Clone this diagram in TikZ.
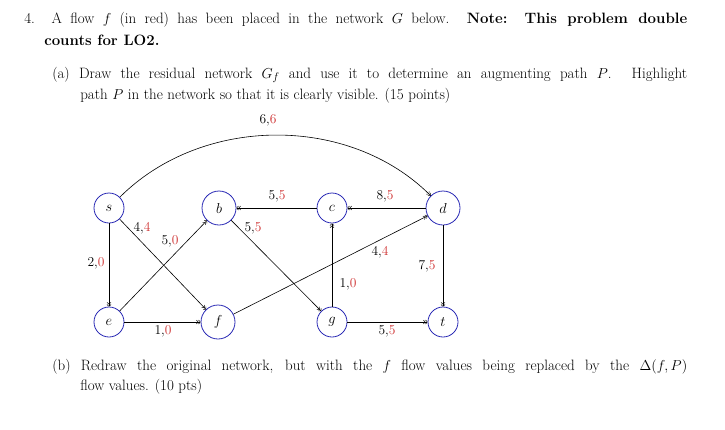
\documentclass[tikz,border=0pt]{standalone}
\usepackage{amsmath}
\usepackage{tikz}
\usetikzlibrary{positioning}
\definecolor{flowred}{RGB}{205,45,45}
\definecolor{nodeblue}{RGB}{40,40,180}
\newcommand{\fl}[2]{#1,\textcolor{flowred}{#2}}
\tikzset{
  vtx/.style={draw=nodeblue, thick, circle, minimum size=30pt, inner sep=0pt, font=\fontsize{14}{16}\selectfont},
  big/.style={minimum size=34pt},
  lbl/.style={inner sep=1pt, font=\fontsize{13.5}{15}\selectfont},
  txt/.style={anchor=west, inner sep=0pt, font=\fontsize{15}{17}\selectfont}
}
\begin{document}
\begin{tikzpicture}[x=1pt, y=-1pt, semithick]
            \useasboundingbox (0,0) rectangle (725,429);
            % Texto
            \node[txt] (l1) at (24,20) {\makebox[663pt][s]{4.\ \ A flow $f$ (in red) has been placed in the network $G$ below. \textbf{Note: This problem double}}};
            \node[txt] (l2) at (44,40) {\textbf{counts for LO2.}};
            \node[txt] (l3) at (52,75) {\makebox[635pt][s]{(a) Draw the residual network $G_f$ and use it to determine an augmenting path $P$. Highlight}};
            \node[txt] (l4) at (80,96) {path $P$ in the network so that it is clearly visible. (15 points)};
            \node[txt] (l5) at (52,367) {\makebox[635pt][s]{(b) Redraw the original network, but with the $f$ flow values being replaced by the $\Delta(f,P)$}};
            \node[txt] (l6) at (80,387) {flow values. (10 pts)};

            % Nodos
            \node[vtx] (s) at (109,208) {$s$};
            \node[vtx, big] (b) at (219,208) {$b$};
            \node[vtx] (c) at (332,208) {$c$};
            \node[vtx, big] (d) at (443,208) {$d$};
            \node[vtx] (e) at (109,322) {$e$};
            \node[vtx, big] (f) at (218,322) {$f$};
            \node[vtx] (g) at (332,322) {$g$};
            \node[vtx] (t) at (443,322) {$t$};

            % Aristas
            \draw[->>] (s) to[out=45, in=135, looseness=0.95] (d);
            \draw[->>] (s) -- (e);
            \draw[->>] (s) -- (f);
            \draw[->>] (e) -- (b);
            \draw[->>] (e) -- (f);
            \draw[->>] (c) -- (b);
            \draw[->>] (d) -- (c);
            \draw[->>] (b) -- (g);
            \draw[->>] (g) -- (c);
            \draw[->>] (f) -- (d);
            \draw[->>] (d) -- (t);
            \draw[->>] (g) -- (t);

            % Etiquetas
            \node[lbl] (sd) at (268,120) {\fl{6}{6}};
            \node[lbl] (cb) at (277,196) {\fl{5}{5}};
            \node[lbl] (dc) at (385,196) {\fl{8}{5}};
            \node[lbl] (sf) at (142,228) {\fl{4}{4}};
            \node[lbl] (eb) at (170,241) {\fl{5}{0}};
            \node[lbl] (bg) at (253,228) {\fl{5}{5}};
            \node[lbl] (se) at (96,263) {\fl{2}{0}};
            \node[lbl] (fd) at (380,252) {\fl{4}{4}};
            \node[lbl] (dt) at (427,266) {\fl{7}{5}};
            \node[lbl] (gc) at (348,284) {\fl{1}{0}};
            \node[lbl] (ef) at (163,331) {\fl{1}{0}};
            \node[lbl] (gt) at (387,331) {\fl{5}{5}};
          \end{tikzpicture}
\end{document}
